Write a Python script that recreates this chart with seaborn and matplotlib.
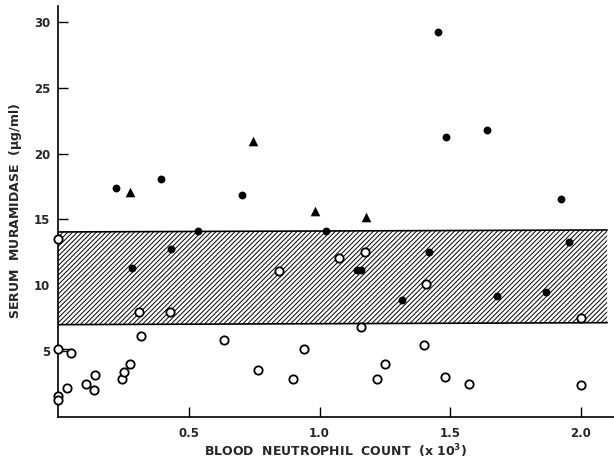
import matplotlib
matplotlib.use("Agg")
from matplotlib import pyplot as plt
import seaborn as sns
import pandas as pd

sns.set_theme(style="ticks")
plt.rcParams["font.family"] = ["DejaVu Sans"]
plt.rcParams["hatch.linewidth"] = 0.7

# open circles
open_x = [0.0, 0.0, 0.051, 0.0, 0.0, 0.033, 0.108, 0.142, 0.139, 0.244, 0.254,
          0.275, 0.308, 0.317, 0.430, 0.633, 0.765, 0.844, 0.897, 0.940, 1.076,
          1.157, 1.174, 1.220, 1.250, 1.398, 1.407, 1.479, 1.570, 2.0, 2.0]
open_y = [13.48, 5.13, 4.82, 1.57, 1.27, 2.16, 2.51, 3.15, 2.03, 2.89, 3.43,
          3.98, 7.97, 6.17, 7.99, 5.81, 3.58, 11.09, 2.89, 5.15, 12.06,
          6.80, 12.56, 2.89, 4.01, 5.43, 10.10, 3.02, 2.49, 7.54, 2.39]

# filled circles
dot_x = [0.223, 0.394, 0.534, 0.434, 0.283, 0.705, 1.024, 1.142, 1.159, 1.317,
         1.418, 1.454, 1.482, 1.642, 1.677, 1.867, 1.925, 1.955]
dot_y = [17.41, 18.05, 14.14, 12.72, 11.32, 16.85, 14.14, 11.12, 11.12, 8.88,
         12.49, 29.24, 21.29, 21.80, 9.19, 9.52, 16.55, 13.32]

# filled triangles
tri_x = [0.277, 0.746, 0.982, 1.177]
tri_y = [17.1, 20.94, 15.66, 15.20]

# normal range band
band_x = [0.0, 2.1]
band_lo = [7.0, 7.15]
band_hi = [14.05, 14.2]

xticks = [0.5, 1.0, 1.5, 2.0]
xtick_labels = ["0.5", "1.0", "1.5", "2.0"]
yticks = [5, 10, 15, 20, 25, 30]

fig = plt.figure(figsize=(6.14, 4.61), dpi=100)
ax = fig.add_axes([58 / 614, (461 - 416.7) / 461, (614 - 58) / 614, (416.7 - 6) / 461])

ax.fill_between(band_x, band_lo, band_hi, facecolor="white", edgecolor="black",
                hatch="///////", linewidth=0, zorder=1)
ax.plot(band_x, band_hi, color="black", lw=1.2, zorder=2)
ax.plot(band_x, band_lo, color="black", lw=1.2, zorder=2)

# little tie between the two open circles near y=5
ax.plot(open_x[1:3], [open_y[1], open_y[1]], color="black", lw=1.0, zorder=2)

df_open = pd.DataFrame({"x": open_x, "y": open_y})
df_dot = pd.DataFrame({"x": dot_x, "y": dot_y})
df_tri = pd.DataFrame({"x": tri_x, "y": tri_y})

sns.scatterplot(data=df_open, x="x", y="y", marker="o", s=36, facecolor="white",
                edgecolor="black", linewidth=1.3, ax=ax, zorder=3, clip_on=False)
sns.scatterplot(data=df_dot, x="x", y="y", marker="o", s=32, color="black",
                edgecolor="black", linewidth=0, ax=ax, zorder=3)
sns.scatterplot(data=df_tri, x="x", y="y", marker="^", s=48, color="black",
                edgecolor="black", linewidth=0, ax=ax, zorder=3)

ax.set_xlim(0, 556 / 261.5)
ax.set_ylim(0, 410.7 / 13.15)
ax.set_xticks(xticks, labels=xtick_labels)
ax.set_yticks(yticks, labels=[str(v) for v in yticks])
ax.tick_params(direction="in", length=7, width=1.0, color="black", labelsize=8.5)
ax.tick_params(axis="x", pad=7.5)
ax.tick_params(axis="y", pad=5.5)
for lab in ax.get_xticklabels() + ax.get_yticklabels():
    lab.set_fontweight("bold")

sns.despine(ax=ax)
for side in ["left", "bottom"]:
    ax.spines[side].set_linewidth(1.2)
    ax.spines[side].set_color("black")

ax.set_xlabel("BLOOD  NEUTROPHIL  COUNT  (x 10$^\\mathbf{3}$)", fontsize=9,
              fontweight="bold", va="center")
ax.xaxis.set_label_coords(0.5, -0.083)
ax.set_ylabel("SERUM  MURAMIDASE  ($\\mathbf{\\mu}$g/ml)", fontsize=9,
              fontweight="bold", va="center")
ax.yaxis.set_label_coords(-0.076, 0.5)

fig.savefig("out.png", dpi=100)
